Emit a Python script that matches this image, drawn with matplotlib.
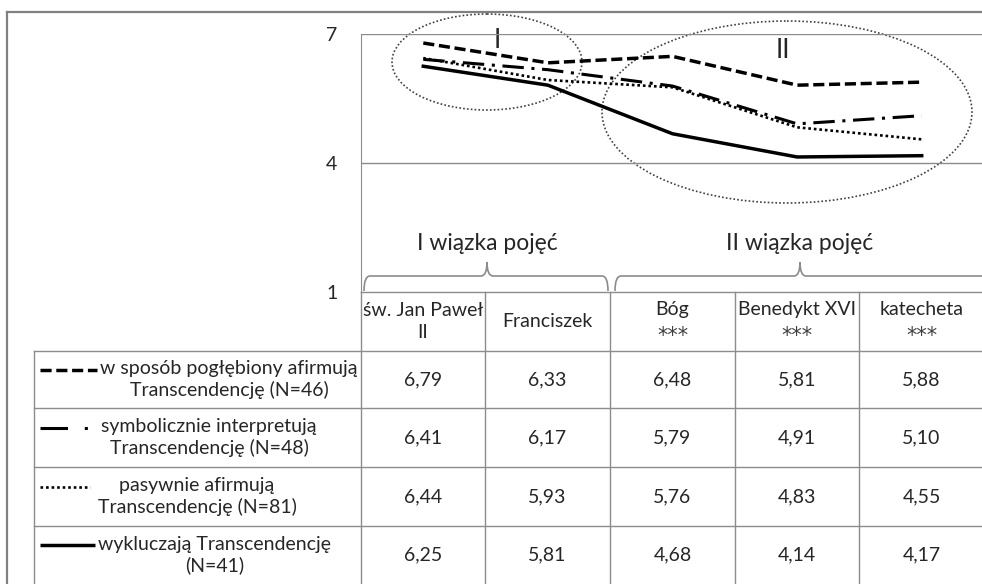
import numpy as np
import matplotlib
matplotlib.use("Agg")
import matplotlib.pyplot as plt
from matplotlib.patches import Ellipse, PathPatch
from matplotlib.path import Path
from matplotlib.lines import Line2D

plt.rcParams['font.family'] = ['Lato', 'DejaVu Sans']

# Data
concepts = ["św. Jan Paweł\nII", "Franciszek", "Bóg", "Benedykt XVI", "katecheta"]
significance = ["", "", "***", "***", "***"]
group_labels = ["w sposób pogłębiony afirmują\nTranscendencję (N=46)",
                "symbolicznie interpretują\nTranscendencję (N=48)",
                "pasywnie afirmują\nTranscendencję (N=81)",
                "wykluczają Transcendencję\n(N=41)"]
deep = [6.79, 6.33, 6.48, 5.81, 5.88]
symbolic = [6.41, 6.17, 5.79, 4.91, 5.10]
passive = [6.44, 5.93, 5.76, 4.83, 4.55]
exclude = [6.25, 5.81, 4.68, 4.14, 4.17]
series = [deep, symbolic, passive, exclude]
cluster_names = ["I wiązka pojęć", "II wiązka pojęć"]
y_ticks = [1, 4, 7]

# Line styles (dashes in units of line width)
styles = [
    dict(lw=2.5, ls=(0, (3.2, 1.35))),
    dict(lw=2.2, ls=(0, (7, 2.5, 1, 2.5))),
    dict(lw=1.9, ls=(0, (1, 1.1))),
    dict(lw=2.5, ls='-'),
]
key_styles = [styles[0]['ls'], (0, (9, 5.5, 1, 20)), styles[2]['ls'], '-']

W, H = 982, 584
fig = plt.figure(figsize=(W / 100, H / 100), dpi=100)
txt = '#262626'
grey = '#8c8c8c'

# background axes in pixel coordinates for the frame, table and annotations
bg = fig.add_axes([0, 0, 1, 1])
bg.set_xlim(0, W)
bg.set_ylim(H, 0)
bg.axis('off')

col_edges = [361, 485, 610, 735, 859, 984]
row_edges = [292, 351, 408, 467, 526, 584]
legend_left = 34

# outer frame
bg.plot([7, W], [12, 12], color='#808080', lw=1.6)
bg.plot([7, 7], [12, H], color='#808080', lw=1.6)

# table grid
bg.plot([col_edges[0], W], [row_edges[0], row_edges[0]], color=grey, lw=1)
for y in row_edges[1:-1]:
    bg.plot([legend_left, W], [y, y], color=grey, lw=1)
for x in col_edges[:-1]:
    bg.plot([x, x], [row_edges[0], H], color=grey, lw=1)
bg.plot([legend_left, legend_left], [row_edges[1], H], color=grey, lw=1)

# table header and values
centers = [(col_edges[i] + col_edges[i + 1]) / 2 for i in range(len(concepts))]
hy = (row_edges[0] + row_edges[1]) / 2
for cx, name, sig in zip(centers, concepts, significance):
    if sig:
        bg.text(cx, hy - 12, name, ha='center', va='center', fontsize=14, color=txt)
        bg.text(cx, hy + 14, sig, ha='center', va='center', fontsize=15,
                color='#404040', family='DejaVu Sans')
    else:
        bg.text(cx, hy, name, ha='center', va='center', fontsize=14, color=txt,
                linespacing=1.3)
for r, vals in enumerate(series):
    cy = (row_edges[r + 1] + row_edges[r + 2]) / 2
    for cx, v in zip(centers, vals):
        bg.text(cx, cy, f"{v:.2f}".replace('.', ','), ha='center', va='center',
                fontsize=14, color=txt)

# legend rows with line keys
label_x = [229, 209, 197, 215]
key_ends = [97, 90, 90, 95]
for r, lab in enumerate(group_labels):
    cy = (row_edges[r + 1] + row_edges[r + 2]) / 2
    bg.text(label_x[r], cy, lab, ha='center', va='center', fontsize=14,
            color=txt, linespacing=1.25)
    bg.add_line(Line2D([40, key_ends[r]], [cy - 10, cy - 10], color='black',
                       solid_capstyle='butt', dash_capstyle='butt',
                       linewidth=styles[r]['lw'], linestyle=key_styles[r]))


# curly braces over the two clusters
def brace(xl, xr, xm, ybot=291, yh=276, ytip=262, r=6):
    verts = [(xl, ybot), (xl, yh), (xl + r, yh),
             (xm - r, yh), (xm, yh), (xm, ytip),
             (xm, yh), (xm + r, yh),
             (xr - r, yh), (xr, yh), (xr, ybot)]
    codes = [Path.MOVETO, Path.CURVE3, Path.CURVE3,
             Path.LINETO, Path.CURVE3, Path.CURVE3,
             Path.CURVE3, Path.CURVE3,
             Path.LINETO, Path.CURVE3, Path.CURVE3]
    bg.add_patch(PathPatch(Path(verts, codes), fill=False, edgecolor=grey, lw=1.2))


brace(364, 608, 487)
brace(615, 992, 800)
bg.text(487, 243, cluster_names[0], ha='center', va='center', fontsize=16.5, color=txt)
bg.text(800, 243, cluster_names[1], ha='center', va='center', fontsize=16.5, color=txt)

# dotted ellipses marking the clusters
bg.add_patch(Ellipse((487, 62), 190, 96, fill=False, edgecolor='#404040',
                     lw=1.2, ls=(0, (1, 1.3))))
bg.add_patch(Ellipse((787, 112), 370, 182, fill=False, edgecolor='#404040',
                     lw=1.2, ls=(0, (1, 1.3))))
bg.text(497, 41, "I", ha='center', va='center', fontsize=19, color=txt)
bg.text(783, 50, "II", ha='center', va='center', fontsize=19, color=txt)

# line chart axes aligned with table columns
ax = fig.add_axes([col_edges[0] / W, (H - row_edges[0]) / H,
                   (col_edges[-1] - col_edges[0]) / W, (row_edges[0] - 34) / H])
ax.patch.set_alpha(0)
x = np.arange(len(concepts))
for vals, st in zip(series, styles):
    ax.plot(x, vals, color='black', linewidth=st['lw'], linestyle=st['ls'],
            dash_capstyle='butt')
ax.set_xlim(-0.5, len(concepts) - 0.5)
ax.set_ylim(1, 7)
ax.set_yticks(y_ticks)
ax.set_xticks([])
ax.tick_params(axis='y', length=0, pad=17, labelsize=14, labelcolor=txt)
for y in y_ticks[1:]:
    ax.axhline(y, color=grey, lw=1, zorder=0)
for s in ['top', 'right', 'bottom']:
    ax.spines[s].set_visible(False)
ax.spines['left'].set_color(grey)

fig.savefig("out.png", dpi=100)
